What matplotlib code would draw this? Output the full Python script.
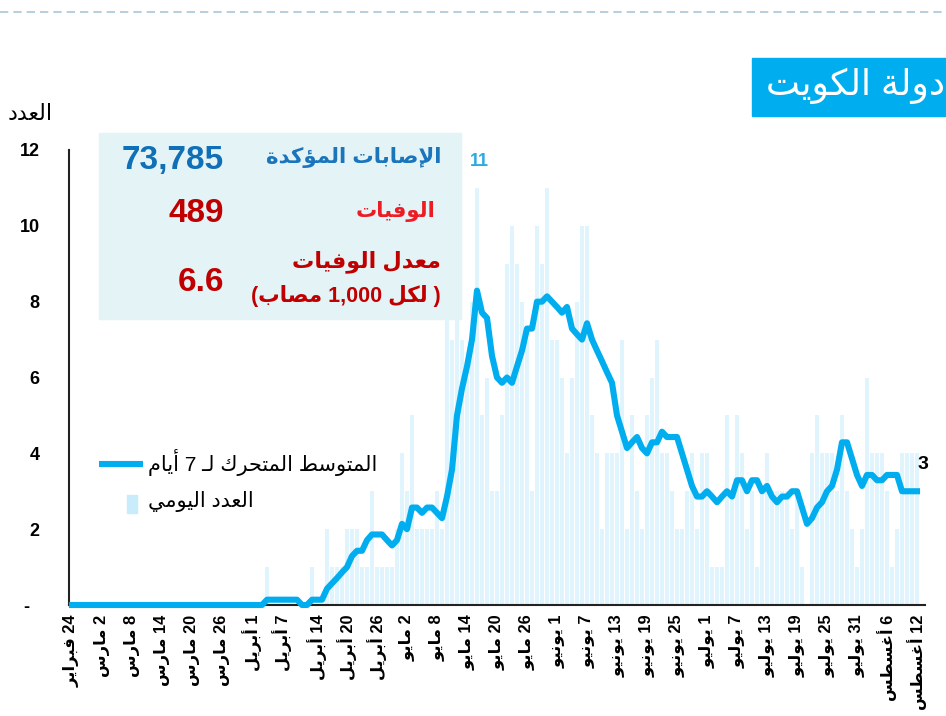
import re
import pandas as pd
import matplotlib
matplotlib.use("Agg")
import matplotlib.pyplot as plt
from matplotlib.patches import Rectangle
from matplotlib.lines import Line2D

# ---- values: Kuwait, daily deaths 24 Feb - 12 Aug 2020 ----
daily = [0] * 39 + [1] + [0] * 8 + [1, 0, 0] + [
    2, 1, 1, 1, 2, 2, 2, 1, 1, 3,        # 51-60
    1, 1, 1, 1, 2, 4, 3, 5, 2, 2,        # 61-70
    2, 2, 3, 2, 9, 7, 10, 7, 6, 8,       # 71-80
    11, 5, 6, 3, 3, 5, 9, 10, 9, 8,      # 81-90
    7, 3, 10, 9, 11, 7, 7, 6, 4, 6,      # 91-100
    8, 10, 10, 5, 4, 2, 4, 4, 4, 7,      # 101-110
    2, 5, 3, 2, 5, 6, 7, 4, 4, 3,        # 111-120
    2, 2, 3, 4, 2, 4, 4, 1, 1, 1,        # 121-130
    5, 3, 5, 4, 2, 3, 1, 3, 4, 3,        # 131-140
    3, 3, 3, 2, 3, 1, 0, 4, 5, 4,        # 141-150
    4, 4, 3, 5, 3, 2, 1, 2, 6, 4,        # 151-160
    4, 4, 3, 1, 2, 4, 4, 4, 4,           # 161-169
]
avg7 = [0] * 39 + [0.14] * 7 + [0, 0] + [0.14] * 3 + [
    0.43, 0.57, 0.71, 0.86, 1.0, 1.29, 1.43, 1.43, 1.71,          # 51-59
    1.86, 1.86, 1.86, 1.71, 1.57, 1.71, 2.14, 2.0, 2.57, 2.57,    # 60-69
    2.43, 2.57, 2.57, 2.43, 2.29, 2.86, 3.57, 5.0, 5.71, 6.29,    # 70-79
    7.0, 8.29, 7.71, 7.57, 6.57, 6.0, 5.86, 6.0, 5.86, 6.29,      # 80-89
    6.71, 7.29, 7.29, 8.0, 8.0, 8.14, 8.0, 7.86, 7.71, 7.86,      # 90-99
    7.29, 7.14, 7.0, 7.43, 7.0, 6.71, 6.43, 6.14, 5.86, 5.0,      # 100-109
    4.57, 4.14, 4.29, 4.43, 4.14, 4.0, 4.29, 4.29, 4.57, 4.43,    # 110-119
    4.43, 4.43, 4.0, 3.57, 3.14, 2.86, 2.86, 3.0, 2.86, 2.71,     # 120-129
    2.86, 3.0, 2.86, 3.29, 3.29, 3.0, 3.29, 3.29, 3.0, 3.14,      # 130-139
    2.86, 2.71, 2.86, 2.86, 3.0, 3.0, 2.57, 2.14, 2.29, 2.57,     # 140-149
    2.71, 3.0, 3.14, 3.57, 4.29, 4.29, 3.86, 3.43, 3.14, 3.43,    # 150-159
    3.43, 3.29, 3.29, 3.43, 3.43, 3.43, 3.0, 3.0, 3.0, 3.0,       # 160-169
]
# the series has no 29 Feb
dates = list(pd.date_range("2020-02-24", "2020-02-28")) + list(pd.date_range("2020-03-01", "2020-08-12"))
tick_dates = ["2020-02-24", "2020-03-02", "2020-03-08", "2020-03-14", "2020-03-20", "2020-03-26",
              "2020-04-01", "2020-04-07", "2020-04-14", "2020-04-20", "2020-04-26", "2020-05-02",
              "2020-05-08", "2020-05-14", "2020-05-20", "2020-05-26", "2020-06-01", "2020-06-07",
              "2020-06-13", "2020-06-19", "2020-06-25", "2020-07-01", "2020-07-07", "2020-07-13",
              "2020-07-19", "2020-07-25", "2020-07-31", "2020-08-06", "2020-08-12"]
months = {2: "فبراير", 3: "مارس", 4: "أبريل", 5: "مايو", 6: "يونيو", 7: "يوليو", 8: "أغسطس"}
y_ticks = [0, 2, 4, 6, 8, 10, 12]
y_labels = ["-  ", "2", "4", "6", "8", "10", "12"]

# ---- matplotlib has no arabic shaping: map letters to presentation forms and reverse ----
AR_FORMS = {"ء": (0xFE80, 1), "آ": (0xFE81, 2), "أ": (0xFE83, 2), "ؤ": (0xFE85, 2), "إ": (0xFE87, 2),
            "ئ": (0xFE89, 4), "ا": (0xFE8D, 2), "ب": (0xFE8F, 4), "ة": (0xFE93, 2), "ت": (0xFE95, 4),
            "ث": (0xFE99, 4), "ج": (0xFE9D, 4), "ح": (0xFEA1, 4), "خ": (0xFEA5, 4), "د": (0xFEA9, 2),
            "ذ": (0xFEAB, 2), "ر": (0xFEAD, 2), "ز": (0xFEAF, 2), "س": (0xFEB1, 4), "ش": (0xFEB5, 4),
            "ص": (0xFEB9, 4), "ض": (0xFEBD, 4), "ط": (0xFEC1, 4), "ظ": (0xFEC5, 4), "ع": (0xFEC9, 4),
            "غ": (0xFECD, 4), "ف": (0xFED1, 4), "ق": (0xFED5, 4), "ك": (0xFED9, 4), "ل": (0xFEDD, 4),
            "م": (0xFEE1, 4), "ن": (0xFEE5, 4), "ه": (0xFEE9, 4), "و": (0xFEED, 2), "ى": (0xFEEF, 2),
            "ي": (0xFEF1, 4)}
LAM_ALEF = {"آ": 0xFEF5, "أ": 0xFEF7, "إ": 0xFEF9, "ا": 0xFEFB}
TATWEEL = "ـ"


def joins_next(c):
    return c == TATWEEL or AR_FORMS.get(c, (0, 0))[1] == 4


def joinable(c):
    return c == TATWEEL or AR_FORMS.get(c, (0, 0))[1] >= 2


def ar(text):
    out = []
    i = 0
    while i < len(text):
        c = text[i]
        prev = text[i - 1] if i > 0 else ""
        nxt = text[i + 1] if i + 1 < len(text) else ""
        from_prev = joins_next(prev) and joinable(c)
        if c == "ل" and nxt in LAM_ALEF:
            out.append(chr(LAM_ALEF[nxt] + (1 if from_prev else 0)))
            i += 2
            continue
        if c in AR_FORMS:
            base, n = AR_FORMS[c]
            to_next = n == 4 and joinable(nxt)
            k = 3 if (from_prev and to_next) else 1 if from_prev else 2 if to_next else 0
            out.append(chr(base + k))
        else:
            out.append(c)
        i += 1
    s = "".join(out)[::-1]
    s = re.sub(r"[0-9][0-9,.]*", lambda m: m.group(0)[::-1], s)
    return s.translate(str.maketrans("()", ")("))


plt.rcParams["font.family"] = ["Liberation Sans", "DejaVu Sans"]

W, H = 946, 716
fig = plt.figure(figsize=(W / 100, H / 100), dpi=100)


def fx(x):
    return x / W


def fy(y):
    return 1 - y / H


ax = fig.add_axes([fx(69), fy(605), fx(925) - fx(69), fy(150) - fy(605)])

line_color = "#00aeef"
bar_color = "#e0f4fd"
x = list(range(len(daily)))
ax.bar(x, daily, width=0.62, color=bar_color, zorder=1)
ax.plot(x, avg7, color=line_color, lw=4.4, solid_joinstyle="round", zorder=3, clip_on=False)

ax.set_xlim(-0.6, 170.6)
ax.set_ylim(0, 12)
ax.set_yticks(y_ticks)
ax.set_yticklabels(y_labels, fontsize=13, fontweight="bold")
tick_pos = [dates.index(pd.Timestamp(d)) for d in tick_dates]
tick_lab = [ar(f"{pd.Timestamp(d).day} {months[pd.Timestamp(d).month]}") for d in tick_dates]
ax.set_xticks(tick_pos)
ax.set_xticklabels(tick_lab, rotation=90, fontsize=11.8, fontweight="bold", va="top", ha="center")
ax.tick_params(axis="y", length=0, pad=21)
ax.tick_params(axis="x", length=0, pad=7)
for side in ["top", "right"]:
    ax.spines[side].set_visible(False)
for side in ["left", "bottom"]:
    ax.spines[side].set_color("#222222")
    ax.spines[side].set_linewidth(1.5)

ax.annotate("11", xy=(81, 11), xytext=(2, 19), textcoords="offset points", ha="center", va="center",
            fontsize=13, fontweight="bold", color="#29abe2")
ax.annotate("3", xy=(169, avg7[-1]), xytext=(4, 19), textcoords="offset points", ha="center", va="center",
            fontsize=14, fontweight="bold", color="black")

# top dashed rule
fig.add_artist(Line2D([0, 1], [fy(12), fy(12)], transform=fig.transFigure, color="#a9c6d8",
                      lw=1.2, ls=(0, (5, 3))))

# title box
fig.add_artist(Rectangle((fx(752), fy(116)), fx(946) - fx(752), fy(58) - fy(116),
                         transform=fig.transFigure, color="#00aeef", zorder=2))
fig.text(fx(945), fy(86), ar("دولة الكويت"), ha="right", va="center", fontsize=26, color="white", zorder=3)

fig.text(fx(53), fy(114), ar("العدد"), ha="right", va="center", fontsize=16, color="black")

# summary box
fig.add_artist(Rectangle((fx(99), fy(319)), fx(461) - fx(99), fy(133) - fy(319),
                         transform=fig.transFigure, color="#e4f4f6", zorder=2))
dark_red = "#c00000"
fig.text(fx(441), fy(158), ar("الإصابات المؤكدة"), ha="right", va="center", fontsize=15.4,
         fontweight="bold", color="#1b75bc", zorder=3)
fig.text(fx(224), fy(160), "73,785", ha="right", va="center", fontsize=24, fontweight="bold",
         color="#0f6fb7", zorder=3)
fig.text(fx(435), fy(212), ar("الوفيات"), ha="right", va="center", fontsize=15.2,
         fontweight="bold", color="#ed1c24", zorder=3)
fig.text(fx(224), fy(214), "489", ha="right", va="center", fontsize=24, fontweight="bold",
         color=dark_red, zorder=3)
fig.text(fx(441), fy(262), ar("معدل الوفيات"), ha="right", va="center", fontsize=16,
         fontweight="bold", color=dark_red, zorder=3)
fig.text(fx(441), fy(296), ar("( لكل 1,000 مصاب)"), ha="right", va="center", fontsize=15.5,
         fontweight="bold", color=dark_red, zorder=3)
fig.text(fx(224), fy(283), "6.6", ha="right", va="center", fontsize=24, fontweight="bold",
         color=dark_red, zorder=3)

# legend
fig.add_artist(Line2D([fx(99), fx(143)], [fy(464), fy(464)], transform=fig.transFigure,
                      color=line_color, lw=4.4, solid_capstyle="butt"))
fig.add_artist(Rectangle((fx(127), fy(513)), fx(137) - fx(127), fy(495) - fy(513),
                         transform=fig.transFigure, color="#c8ecfb"))
fig.text(fx(148), fy(463), ar("المتوسط المتحرك لـ 7 أيام"), ha="left", va="center", fontsize=15)
fig.text(fx(148), fy(501), ar("العدد اليومي"), ha="left", va="center", fontsize=15)

fig.savefig("out.png", dpi=100)
